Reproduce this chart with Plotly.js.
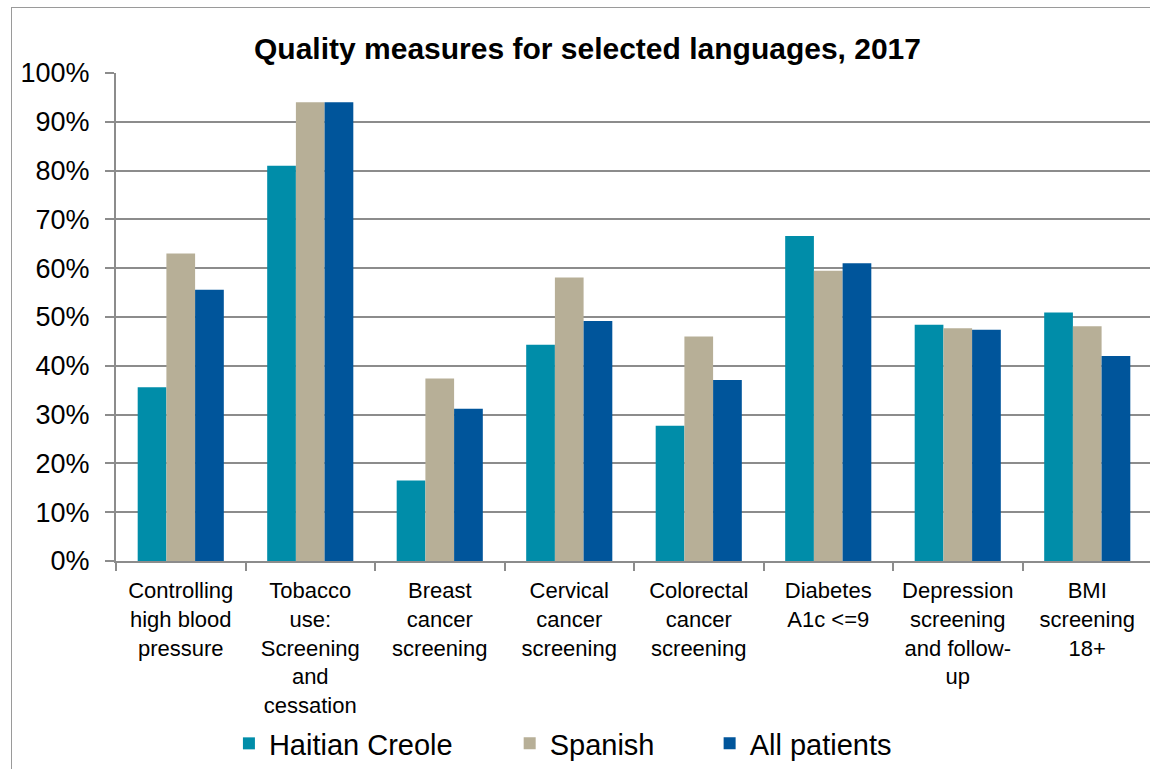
<!DOCTYPE html>
<html>
<head>
<meta charset="utf-8">
<script src="https://cdn.plot.ly/plotly-3.0.1.min.js"></script>
<style>
  html, body { margin: 0; padding: 0; overflow: hidden; background: #fff; }
  #wrap { position: relative; width: 1150px; height: 769px; overflow: hidden; }
  #chart { position: absolute; left: 0; top: 0; width: 1152px; height: 769px; }
  #frame { position: absolute; left: 11px; top: 7px; width: 1200px; height: 800px;
           border-left: 1px solid #9a9a9a; border-top: 1px solid #9a9a9a; pointer-events: none; }
</style>
</head>
<body>
<div id="wrap">
  <div id="chart"></div>
  <div id="frame"></div>
</div>
<script>
const categories = [
  "Controlling<br>high blood<br>pressure",
  "Tobacco<br>use:<br>Screening<br>and<br>cessation",
  "Breast<br>cancer<br>screening",
  "Cervical<br>cancer<br>screening",
  "Colorectal<br>cancer<br>screening",
  "Diabetes<br>A1c &lt;=9",
  "Depression<br>screening<br>and follow-<br>up",
  "BMI<br>screening<br>18+"
];
const haitianCreole = [35.6, 81.0, 16.5, 44.3, 27.7, 66.6, 48.4, 50.9];
const spanish       = [63.0, 94.0, 37.4, 58.1, 46.0, 59.5, 47.7, 48.1];
const allPatients   = [55.6, 94.0, 31.2, 49.2, 37.1, 61.0, 47.4, 42.0];
const seriesNames = ["Haitian Creole", "Spanish", "All patients"];
const seriesColors = ["#008DA9", "#B7AF97", "#00559B"];
const yTickVals = [0, 10, 20, 30, 40, 50, 60, 70, 80, 90, 100];
const yTickText = ["0%", "10%", "20%", "30%", "40%", "50%", "60%", "70%", "80%", "90%", "100%"];

const FONT = "Liberation Sans, Arial, Helvetica, sans-serif";
const legendIds = ["legend", "legend2", "legend3"];
const legendX = [0.109, 0.380, 0.573];

const data = [haitianCreole, spanish, allPatients].map((vals, k) => ({
  type: "bar",
  name: seriesNames[k],
  x: categories,
  y: vals,
  legend: legendIds[k],
  marker: { color: seriesColors[k], line: { width: 0 } },
  hoverinfo: "x+y+name"
}));

function legendBox(x) {
  return {
    orientation: "h",
    x: x, xanchor: "left",
    y: -0.374, yanchor: "middle",
    font: { family: FONT, size: 29, color: "#000000" },
    bgcolor: "rgba(0,0,0,0)",
    itemwidth: 30
  };
}

const layout = {
  width: 1152,
  height: 769,
  margin: { l: 116, r: 0, t: 73, b: 207 },
  paper_bgcolor: "#ffffff",
  plot_bgcolor: "#ffffff",
  font: { family: FONT, color: "#000000" },
  title: {
    text: "<b>Quality measures for selected languages, 2017</b>",
    font: { family: FONT, size: 30, color: "#000000" },
    x: 0.51, xanchor: "center",
    y: 0.937, yanchor: "middle"
  },
  barmode: "group",
  bargap: 0.335,
  bargroupgap: 0,
  xaxis: {
    type: "category",
    tickson: "boundaries",
    ticks: "outside",
    ticklen: 8,
    tickwidth: 2,
    tickcolor: "#8c8c8c",
    showline: true,
    linecolor: "#8c8c8c",
    linewidth: 2,
    showgrid: false,
    tickangle: 0,
    tickfont: { family: FONT, size: 22, color: "#000000" },
    ticklabelstandoff: 9,
    range: [-0.5, 7.5],
    fixedrange: true
  },
  yaxis: {
    range: [0, 100],
    tickvals: yTickVals,
    ticktext: yTickText,
    ticks: "outside",
    ticklen: 9,
    tickwidth: 2,
    tickcolor: "#8c8c8c",
    showline: true,
    linecolor: "#8c8c8c",
    linewidth: 2,
    showgrid: true,
    gridcolor: "#8c8c8c",
    gridwidth: 2,
    zeroline: false,
    tickfont: { family: FONT, size: 27, color: "#000000" },
    ticklabelstandoff: 10,
    fixedrange: true
  },
  showlegend: true,
  legend: legendBox(legendX[0]),
  legend2: legendBox(legendX[1]),
  legend3: legendBox(legendX[2])
};

Plotly.newPlot("chart", data, layout, { displayModeBar: false, staticPlot: true });
</script>
</body>
</html>
